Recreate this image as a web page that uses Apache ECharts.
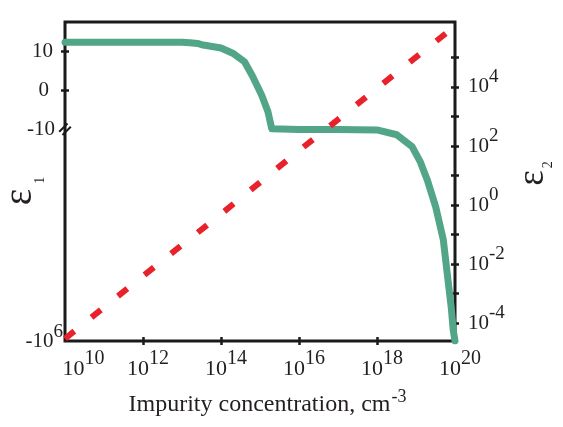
<!DOCTYPE html>
<html><head><meta charset="utf-8">
<script src="https://cdn.jsdelivr.net/npm/echarts@6/dist/echarts.min.js"></script>
<style>html,body{margin:0;padding:0;background:#fff}#c{width:563px;height:427px}</style>
</head><body><div id="c"></div>
<script>
// ---- data ----
const greenConc = [1e10, 1e11, 1e12, 1e13, 1.6e13, 2.5e13, 3.5e13, 1e14, 2e14, 4e14, 6.3e14, 1.1e15, 1.6e15, 2e15, 1e16, 1e17, 1e18, 3.2e18, 8e18, 1.3e19, 2e19, 3.2e19, 5e19, 6.3e19, 8e19, 9e19, 1e20];
const eps1 = [12.3, 12.3, 12.3, 12.3, 12.2, 12.0, 11.6, 10.85, 9.5, 7.3, 3.8, -1.2, -5.5, -9.9, -10.1, -10.2, -10.4, -13.5, -26, -60, -170, -680, -4000, -2.5e4, -1.6e5, -5.5e5, -1e6];
const redConc = [1e10, 1e12, 1e14, 1e16, 1e18, 1e20];
const eps2 = [3e-5, 4e-3, 0.5, 70, 9e3, 1.15e6];
const xLabelExp = [10, 12, 14, 16, 18, 20];
const xTickExp = [12, 14, 16, 18];
const leftLabelVals = [10, 0, -10, -1e6];
const leftLabelText = ['10', '0', '-10', '-10^6'];
const leftTickVals = [10, 0];
const rightLabelExp = [-4, -2, 0, 2, 4];
const rightTickExp = [-4, -3, -2, -1, 0, 1, 2, 3, 4, 5];

// broken eps1 axis: linear above -10, log of |eps1| below
const PER_DECADE = 10.86;
function e1(v) { return v >= -10 ? v : -10 - PER_DECADE * (Math.log10(-v) - 1); }

const FONT = 'Liberation Serif';
const INK = '#231f20';
const tickStyle = { color: '#1a1a1a', width: 2.5 };
const noLine = { show: false, onZero: false };

const xRich = {
  b: { fontSize: 22, fontFamily: FONT, color: INK, verticalAlign: 'middle', padding: [0, 0, 0, 10] },
  bf: { fontSize: 22, fontFamily: FONT, color: INK, verticalAlign: 'middle', padding: [0, 0, 0, 37] },
  s: { fontSize: 20, fontFamily: FONT, color: INK, verticalAlign: 'top', padding: [0, 0, 20, 0] }
};
const rRich = {
  b: { fontSize: 21, fontFamily: FONT, color: INK, verticalAlign: 'middle' },
  s: { fontSize: 19, fontFamily: FONT, color: INK, verticalAlign: 'top', padding: [0, 0, 20, 0] }
};
const lRich = {
  l0: { fontSize: 21, fontFamily: FONT, color: INK, verticalAlign: 'middle', padding: [0, 10, 0, 0] },
  l1: { fontSize: 21, fontFamily: FONT, color: INK, verticalAlign: 'middle', padding: [0, 14, 0, 0] },
  l2: { fontSize: 21, fontFamily: FONT, color: INK, verticalAlign: 'middle', padding: [0, 8, 0, 0] },
  l3: { fontSize: 21, fontFamily: FONT, color: INK, verticalAlign: 'middle' },
  s: { fontSize: 19, fontFamily: FONT, color: INK, verticalAlign: 'top', padding: [0, 0, 18, 0] }
};

const chart = echarts.init(document.getElementById('c'), null, { renderer: 'canvas' });
const leftMin = e1(-1e6);
chart.setOption({
  animation: false,
  backgroundColor: '#fff',
  grid: { left: 65, right: 108, top: 22, bottom: 86, show: true, borderColor: '#1a1a1a', borderWidth: 3, backgroundColor: 'transparent', containLabel: false, outerBoundsMode: 'none' },
  xAxis: [{
    type: 'value', min: 10, max: 20, position: 'bottom',
    axisLine: noLine, splitLine: { show: false },
    axisTick: { show: true, customValues: xTickExp, length: 4, lineStyle: tickStyle },
    axisLabel: {
      customValues: xLabelExp, margin: 8, showMinLabel: true, showMaxLabel: true,
      formatter: v => { const n = Math.round(v); return (n === xLabelExp[0] ? '{bf|10}' : '{b|10}') + '{s|' + n + '}'; },
      rich: xRich
    },
    name: '{t|Impurity concentration, cm}{u|-3}', nameLocation: 'middle', nameGap: 47, nameMoveOverlap: false,
    nameTextStyle: { padding: [0, 0, 0, 15], rich: {
      t: { fontSize: 24, fontFamily: FONT, color: INK, verticalAlign: 'middle' },
      u: { fontSize: 18, fontFamily: FONT, color: INK, verticalAlign: 'top', padding: [0, 0, 16, 1] }
    } }
  }, {
    type: 'value', min: 10, max: 20, position: 'bottom',
    axisLine: noLine, splitLine: { show: false }, axisLabel: { show: false },
    axisTick: { show: true, inside: true, customValues: xTickExp, length: 4, lineStyle: tickStyle }
  }],
  yAxis: [{
    type: 'value', min: leftMin, max: 17.5, position: 'left',
    axisLine: noLine, splitLine: { show: false },
    axisTick: { show: true, customValues: leftTickVals.map(e1), length: 4, lineStyle: tickStyle },
    axisLabel: {
      customValues: leftLabelVals.map(e1), margin: 2, showMinLabel: true, showMaxLabel: true,
      formatter: v => {
        let best = 0;
        leftLabelVals.forEach((lv, i) => { if (Math.abs(e1(lv) - v) < Math.abs(e1(leftLabelVals[best]) - v)) best = i; });
        const t = leftLabelText[best];
        if (t.indexOf('^') >= 0) { const p = t.split('^'); return '{l3|' + p[0] + '}{s|' + p[1] + '}'; }
        return '{l' + best + '|' + t + '}';
      },
      rich: lRich
    },
    name: '{e|ε}{s|1}', nameLocation: 'middle', nameGap: 18, nameRotate: 90, nameMoveOverlap: false,
    nameTextStyle: { padding: [0, 19, 0, 0], rich: {
      e: { fontSize: 39, fontFamily: FONT, color: INK, verticalAlign: 'middle' },
      s: { fontSize: 14, fontFamily: FONT, color: INK, verticalAlign: 'bottom', padding: [38, 0, 0, 5] }
    } }
  }, {
    type: 'value', min: leftMin, max: 17.5, position: 'left',
    axisLine: noLine, splitLine: { show: false }, axisLabel: { show: false },
    axisTick: { show: true, inside: true, customValues: leftTickVals.map(e1), length: 4, lineStyle: tickStyle }
  }, {
    type: 'value', min: -4.6, max: 6.2, position: 'right',
    axisLine: noLine, splitLine: { show: false },
    axisTick: { show: true, customValues: rightTickExp, length: 4, lineStyle: tickStyle },
    axisLabel: {
      customValues: rightLabelExp, margin: 13,
      formatter: v => '{b|10}{s|' + Math.round(v) + '}',
      rich: rRich
    },
    name: '{e|ε}{s|2}', nameLocation: 'middle', nameGap: 57, nameRotate: 90, nameMoveOverlap: false,
    nameTextStyle: { padding: [0, 0, 0, 16], rich: {
      e: { fontSize: 37, fontFamily: FONT, color: INK, verticalAlign: 'middle' },
      s: { fontSize: 14, fontFamily: FONT, color: INK, verticalAlign: 'bottom', padding: [29, 0, 0, 2] }
    } }
  }, {
    type: 'value', min: -4.6, max: 6.2, position: 'right',
    axisLine: noLine, splitLine: { show: false }, axisLabel: { show: false },
    axisTick: { show: true, inside: true, customValues: rightTickExp, length: 4, lineStyle: tickStyle }
  }],
  series: [{
    name: 'eps1', type: 'line', xAxisIndex: 0, yAxisIndex: 0,
    data: greenConc.map((c, i) => [Math.log10(c), e1(eps1[i])]),
    symbol: 'none', showSymbol: false,
    lineStyle: { color: '#52a687', width: 7, cap: 'round', join: 'round' },
    z: 3,
    markPoint: {
      silent: true,
      symbol: 'path://M0,9 L9,0 L10.5,1.5 L1.5,10.5 Z M3.5,12.5 L12.5,3.5 L14,5 L5,14 Z',
      symbolSize: 13,
      itemStyle: { color: '#1a1a1a' },
      label: { show: false },
      data: [{ coord: [10, -10] }]
    }
  }, {
    name: 'eps2', type: 'line', xAxisIndex: 0, yAxisIndex: 2,
    data: redConc.map((c, i) => [Math.log10(c), Math.log10(eps2[i])]),
    symbol: 'none', showSymbol: false,
    lineStyle: { color: '#e8212b', width: 6, type: [12, 22] },
    z: 4
  }]
});
</script></body></html>
